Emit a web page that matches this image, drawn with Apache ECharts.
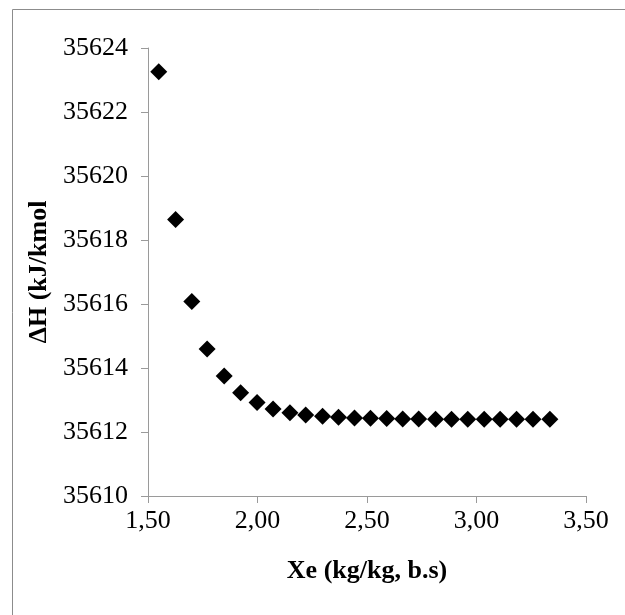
<!DOCTYPE html>
<html>
<head>
<meta charset="utf-8">
<script src="https://cdn.jsdelivr.net/npm/echarts@6/dist/echarts.min.js"></script>
<style>
  html, body { margin: 0; padding: 0; background: #fff; }
  #chart { width: 625px; height: 615px; }
</style>
</head>
<body>
<div id="chart"></div>
<script>
// Xe (kg/kg, b.s) values
const xeValues = [1.549, 1.626, 1.700, 1.770, 1.848, 1.923, 1.998, 2.071, 2.148, 2.220,
                  2.297, 2.370, 2.443, 2.516, 2.590, 2.663, 2.736, 2.813, 2.886, 2.960,
                  3.035, 3.108, 3.183, 3.258, 3.335];
// ΔH (kJ/kmol) values
const dhValues = [35623.26, 35618.64, 35616.08, 35614.59, 35613.75, 35613.23, 35612.92, 35612.72,
                  35612.60, 35612.53, 35612.49, 35612.46, 35612.44, 35612.43, 35612.42, 35612.41,
                  35612.41, 35612.40, 35612.40, 35612.40, 35612.40, 35612.40, 35612.40, 35612.40,
                  35612.40];

const points = xeValues.map((x, i) => [x, dhValues[i]]);

const chart = echarts.init(document.getElementById('chart'));
const serif = 'Liberation Serif';
const axisGray = '#9a9a9a';

chart.setOption({
  animation: false,
  graphic: [{
    type: 'rect',
    shape: { x: 12.5, y: 9.5, width: 700, height: 700 },
    style: { fill: 'none', stroke: '#8c8c8c', lineWidth: 1 },
    silent: true
  }],
  grid: { left: 148, right: 39, top: 48, bottom: 119 },
  xAxis: {
    type: 'value',
    min: 1.5,
    max: 3.5,
    interval: 0.5,
    name: 'Xe (kg/kg, b.s)',
    nameLocation: 'middle',
    nameGap: 62,
    nameTextStyle: { fontFamily: serif, fontSize: 26, fontWeight: 'bold', color: '#000' },
    axisLine: { lineStyle: { color: axisGray, width: 1 } },
    axisTick: { inside: false, length: 7, lineStyle: { color: axisGray } },
    axisLabel: {
      fontFamily: serif, fontSize: 26, color: '#000', margin: 12,
      formatter: v => v.toFixed(2).replace('.', ',')
    },
    splitLine: { show: false }
  },
  yAxis: {
    type: 'value',
    min: 35610,
    max: 35624,
    interval: 2,
    name: 'ΔH (kJ/kmol',
    nameLocation: 'middle',
    nameGap: 90,
    nameTextStyle: { fontFamily: serif, fontSize: 26, fontWeight: 'bold', color: '#000' },
    axisLine: { show: true, lineStyle: { color: axisGray, width: 1 } },
    axisTick: { show: true, inside: false, length: 7, lineStyle: { color: axisGray } },
    axisLabel: { fontFamily: serif, fontSize: 26, color: '#000', margin: 20, formatter: v => String(v) },
    splitLine: { show: false }
  },
  series: [{
    type: 'scatter',
    data: points,
    symbol: 'diamond',
    symbolSize: 17,
    itemStyle: { color: '#000', opacity: 1 }
  }]
});
</script>
</body>
</html>
